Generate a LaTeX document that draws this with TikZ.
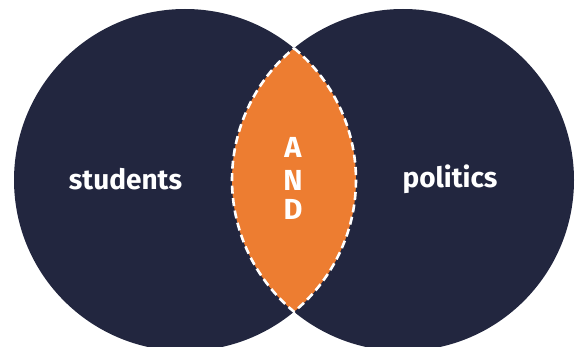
\documentclass[tikz,border=0pt]{standalone}
\usepackage{fontspec}
\setmainfont{Fira Sans}
\usepackage{tikz}
\usetikzlibrary{calc,positioning}
\definecolor{vennnavy}{HTML}{22263F}
\definecolor{vennorange}{HTML}{ED7D31}
\tikzset{setcircle/.style={circle,fill=vennnavy,minimum size=342pt,inner
sep=0pt},settext/.style={text=white,anchor=base,inner sep=0pt,font=\bfseries\fontsize{28}{28}\selectfont},andtext/.style={text=white,anchor=base,inner
sep=0pt,font=\bfseries\fontsize{29}{29}\selectfont}}
\tikzstyle{lensborder} = [white,line width=2.6pt,dash pattern=on 8pt off 4.5pt]

\begin{document}
\begin{tikzpicture}[x=1pt,y=1pt]
		\useasboundingbox (0,0) rectangle (579,346);
		% the two sets
		\node[setcircle] (students) at (185,166) {};
		\node[setcircle] (politics) at (403,166) {};
		% the overlap
		\begin{scope}
			\clip (students.center) circle (171);
			\fill[vennorange] (politics.center) circle (171);
		\end{scope}
		\coordinate (lenstop) at ($(students.center)!0.5!(politics.center)+(0,131.8)$);
		\coordinate (lensbottom) at ($(students.center)!0.5!(politics.center)-(0,131.8)$);
		\draw[lensborder] (lenstop) arc[start angle=50.4,end angle=-50.4,radius=171]
			arc[start angle=230.4,end angle=129.6,radius=171] -- cycle;
		% labels
		\node[settext] (studentslabel) at (125.5,157) {students};
		\node[settext] (politicslabel) at (450,158) {politics};
		\node[andtext] (andA) at (293,188) {A};
		\node[andtext] (andN) at ([yshift=-33pt]andA.base) {N};
		\node[andtext] (andD) at ([yshift=-29pt]andN.base) {D};
	\end{tikzpicture}
\end{document}
